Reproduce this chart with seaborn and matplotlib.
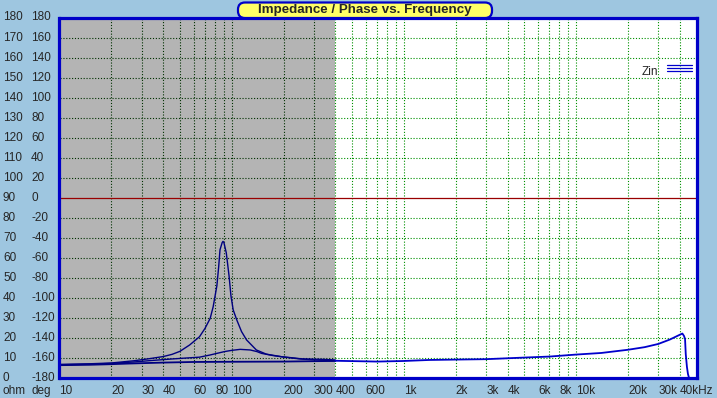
import numpy as np
import pandas as pd
import matplotlib
matplotlib.use('Agg')
import matplotlib.pyplot as plt
import matplotlib.transforms as mtransforms
from matplotlib.patches import FancyBboxPatch
from matplotlib.lines import Line2D
import seaborn as sns

# ---------------- data ----------------
zin_freq = [10, 15, 20, 27, 33, 40, 45, 50, 57, 65, 70, 75, 78, 82, 84, 85.5, 88, 89, 90,
            93, 96.5, 99, 102, 107, 114, 122, 139, 159, 199, 250, 300, 400, 700, 1000,
            1400, 2000, 3000, 5000, 7000, 10000, 14000, 20000, 25000, 30000, 35000,
            40000, 41400, 42300, 42900, 43300, 44000, 44600, 45100]
zin_ohm = [6.8, 7.1, 7.5, 8.6, 9.6, 10.7, 11.8, 13.3, 16.5, 20.6, 24.8, 29.8, 35.5, 46.0,
           55.5, 64.0, 67.6, 68.2, 67.8, 62.5, 51.0, 41.0, 34.0, 29.0, 23.2, 19.0, 14.0,
           11.9, 10.5, 9.5, 9.1, 8.6, 8.2, 8.5, 9.0, 9.2, 9.4, 10.2, 10.7, 11.7, 12.5,
           14.1, 15.4, 17.0, 19.2, 21.6, 22.2, 21.0, 19.5, 12.0, 5.5, 2.0, 0.5]

bump_freq = [10, 15, 20, 27, 35, 45, 55, 65, 75, 82, 91, 100, 112, 128, 140, 149, 160,
             174, 195, 218, 259, 300, 340, 400]
bump_ohm = [6.6, 6.9, 7.3, 8.0, 8.8, 9.5, 10.0, 10.4, 11.5, 12.3, 13.2, 13.8, 14.3, 14.0,
            13.2, 12.3, 11.8, 11.2, 10.6, 10.2, 9.5, 9.4, 9.3, 9.0]

flat_freq = [10, 15, 20, 25, 30, 40, 60, 100, 200, 300, 400]
flat_ohm = [6.4, 6.6, 6.9, 7.2, 7.4, 7.7, 8.0, 8.1, 8.2, 8.4, 8.5]

ohm_labels = [180, 170, 160, 150, 140, 130, 120, 110, 100, 90, 80, 70, 60, 50, 40, 30, 20, 10, 0]
deg_labels = [180, 160, 140, 120, 100, 80, 60, 40, 20, 0, -20, -40, -60, -80, -100, -120,
              -140, -160, -180]
x_tick_freqs = [10, 20, 30, 40, 60, 80, 100, 200, 300, 400, 600, 1000, 2000, 3000, 4000,
                6000, 8000, 10000, 20000, 30000, 40000]
x_tick_labels = ['10', '20', '30', '40', '60', '80', '100', '200', '300', '400', '600',
                 '1k', '2k', '3k', '4k', '6k', '8k', '10k', '20k', '30k', '40kHz']
band_edge = 400
title = 'Impedance / Phase vs. Frequency'
legend_label = 'Zin'

# ---------------- style ----------------
sns.set_style('white')
plt.rcParams['font.family'] = ['Liberation Sans', 'DejaVu Sans']

BG = '#9EC6E0'
GRAY = '#B4B4B4'
FRAME = '#0000C8'
NAVY = '#000080'
BLUE = '#0000CC'
FS = 8.5

W, H = 717, 398
fig = plt.figure(figsize=(W / 100, H / 100), dpi=100, facecolor=BG)
left, right, top, bottom = 59.5, 696.5, 17.5, 378
ax = fig.add_axes([left / W, 1 - bottom / H, (right - left) / W, (bottom - top) / H])
ax.set_facecolor('white')
ax.set_xscale('log')
ax.set_xlim(10, 50000)
ax.set_ylim(0, 180)

ax.axvspan(10, band_edge, color=GRAY, zorder=0, lw=0)

# grid
dot = (0, (1, 1.6))
for dec in [10, 100, 1000, 10000]:
    for m in range(1, 10):
        f = dec * m
        if f <= 10 or f >= 50000:
            continue
        c = '#003000' if f < band_edge else '#009000'
        ax.axvline(f, color=c, lw=0.8, ls=dot, zorder=1)
for yv in range(10, 180, 10):
    if yv == 90:
        ax.axhline(yv, color='#990000', lw=0.9, zorder=1.5)
        continue
    ax.hlines(yv, 10, band_edge, color='#003000', lw=0.8, ls=dot, zorder=1)
    ax.hlines(yv, band_edge, 50000, color='#009000', lw=0.8, ls=dot, zorder=1)

# curves
zin = pd.DataFrame({'f': zin_freq, 'z': zin_ohm})
bump = pd.DataFrame({'f': bump_freq, 'z': bump_ohm})
flat = pd.DataFrame({'f': flat_freq, 'z': flat_ohm})
sns.lineplot(data=flat, x='f', y='z', ax=ax, color=NAVY, lw=1.3, estimator=None, zorder=3)
sns.lineplot(data=bump, x='f', y='z', ax=ax, color=NAVY, lw=1.0, estimator=None, zorder=3)
sns.lineplot(data=zin[zin.f <= band_edge], x='f', y='z', ax=ax, color=NAVY, lw=1.0,
             estimator=None, zorder=3)
sns.lineplot(data=zin[zin.f >= band_edge], x='f', y='z', ax=ax, color=BLUE, lw=1.3,
             estimator=None, zorder=3)

ax.set_xlabel('')
ax.set_ylabel('')
ax.set_xticks([])
ax.set_yticks([])
ax.minorticks_off()
for s in ax.spines.values():
    s.set_color(FRAME)
    s.set_linewidth(2.3)
    s.set_zorder(5)

# y-axis labels (two columns)
ytr = mtransforms.blended_transform_factory(fig.transFigure, ax.transData)
for o, d in zip(ohm_labels, deg_labels):
    fig.text(3 / W, o, str(o), transform=ytr, ha='left', va='center', fontsize=FS)
    fig.text(31 / W, o, str(d), transform=ytr, ha='left', va='center', fontsize=FS)

# x-axis labels
xtr = mtransforms.blended_transform_factory(ax.transData, fig.transFigure)
ylab = 1 - 391 / H
for f, lab in zip(x_tick_freqs, x_tick_labels):
    ax.text(f, ylab, lab, transform=xtr, ha='left', va='center', fontsize=FS, clip_on=False)
fig.text(3 / W, ylab, 'ohm', ha='left', va='center', fontsize=FS)
fig.text(31 / W, ylab, 'deg', ha='left', va='center', fontsize=FS)

# title box
box = FancyBboxPatch((2.38, (H - 18) / 100), 2.54, 0.155,
                     boxstyle='round,pad=0,rounding_size=0.07',
                     transform=fig.dpi_scale_trans, facecolor='#FFFF66',
                     edgecolor=FRAME, lw=1.6, zorder=10)
fig.add_artist(box)
fig.text(365 / W, 1 - 10.2 / H, title, ha='center', va='center', fontsize=9.6,
         fontweight='bold', zorder=11)

# legend
fig.text(658 / W, 1 - 72 / H, legend_label, ha='right', va='center', fontsize=FS, zorder=6)
for yy in [65.3, 68.3, 71.3]:
    fig.add_artist(Line2D([667 / W, 692 / W], [1 - yy / H, 1 - yy / H], color=BLUE,
                          lw=0.9, transform=fig.transFigure, zorder=6))

fig.savefig('out.png', dpi=100, facecolor=BG)
